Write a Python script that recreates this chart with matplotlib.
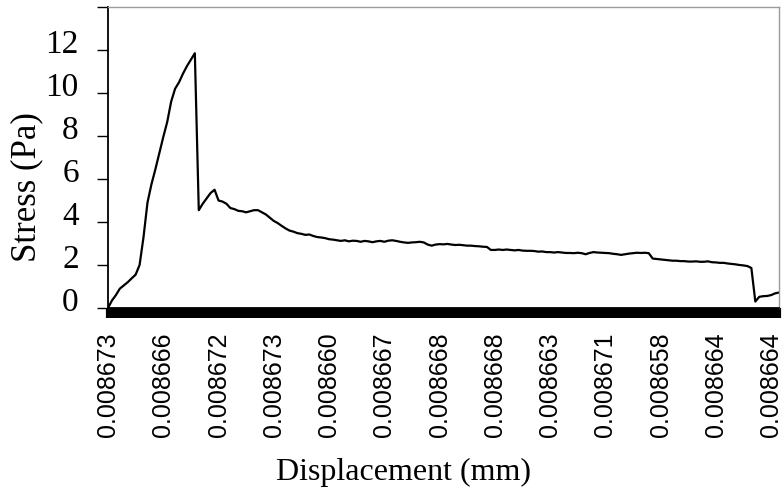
import numpy as np
import matplotlib
matplotlib.use("Agg")
import matplotlib.pyplot as plt
from matplotlib.transforms import ScaledTranslation

# Stress readings (Pa), one per displacement sample
stress = [
    0.0, 0.35, 0.6, 0.9, 1.05, 1.2, 1.38, 1.55, 2.0, 3.3,
    4.9, 5.75, 6.45, 7.2, 7.95, 8.65, 9.6, 10.2, 10.5, 10.9,
    11.25, 11.55, 11.85, 4.55, 4.85, 5.1, 5.35, 5.5, 5.0, 4.95,
    4.85, 4.65, 4.6, 4.52, 4.5, 4.45, 4.5, 4.55, 4.55, 4.45,
    4.35, 4.2, 4.05, 3.95, 3.82, 3.7, 3.6, 3.55, 3.48, 3.45,
    3.4, 3.42, 3.35, 3.3, 3.28, 3.25, 3.2, 3.18, 3.15, 3.12,
    3.15, 3.1, 3.13, 3.12, 3.08, 3.12, 3.1, 3.06, 3.1, 3.12,
    3.08, 3.13, 3.15, 3.12, 3.08, 3.05, 3.03, 3.05, 3.06, 3.08,
    3.05, 2.95, 2.9, 2.95, 2.97, 2.96, 2.98, 2.95, 2.93, 2.94,
    2.92, 2.9, 2.9, 2.88, 2.87, 2.85, 2.84, 2.7, 2.7, 2.72,
    2.7, 2.72, 2.7, 2.68, 2.7, 2.67, 2.66, 2.66, 2.65, 2.62,
    2.63, 2.6, 2.6, 2.58, 2.6, 2.58, 2.56, 2.56, 2.55, 2.57,
    2.55, 2.5, 2.56, 2.6, 2.58, 2.57, 2.56, 2.55, 2.52, 2.5,
    2.47, 2.5, 2.53, 2.55, 2.57, 2.56, 2.57, 2.55, 2.3, 2.28,
    2.26, 2.24, 2.22, 2.2, 2.2, 2.18, 2.18, 2.16, 2.16, 2.17,
    2.15, 2.15, 2.17, 2.13, 2.12, 2.1, 2.1, 2.07, 2.05, 2.03,
    2.0, 1.98, 1.95, 1.86, 0.3, 0.52, 0.55, 0.56, 0.6, 0.68,
    0.72,
]

# Displacement category labels (every 14th sample)
disp_labels = ["0.008673", "0.008666", "0.008672", "0.008673", "0.008660",
               "0.008667", "0.008668", "0.008668", "0.008663", "0.008671",
               "0.008658", "0.008664", "0.008664"]
label_step = 14

y_ticks = [0, 2, 4, 6, 8, 10, 12, 14]
y_labels = ["0", "2", "4", "6", "8", "10", "12", ""]

serif = "Liberation Serif"
sans = "Liberation Sans"

fig = plt.figure(figsize=(7.84, 4.88), dpi=100)
ax = fig.add_axes([108/784, 180/488, 671/784, 301/488])

x = np.arange(len(stress))
ax.plot(x, stress, color="k", lw=1.6)

ax.set_xlim(0, len(stress) - 1)
ax.set_ylim(0, 14)

# x axis: dense category ticks forming a black band
ax.set_xticks(np.arange(len(disp_labels)) * label_step)
ax.set_xticklabels(disp_labels, rotation=90, family=sans, fontsize=18)
ax.set_xticks(x, minor=True)
ax.tick_params(axis="x", which="both", direction="out", length=7.5,
               width=3, color="k", pad=10)

# y axis
ax.set_yticks(y_ticks)
ax.set_yticklabels(y_labels, family=serif, fontsize=24)
ax.tick_params(axis="y", direction="out", length=8, width=1, pad=13)
shift = ScaledTranslation(0, 0.09, fig.dpi_scale_trans)
for lab in ax.get_yticklabels():
    lab.set_transform(lab.get_transform() + shift)

for side in ["top", "right"]:
    ax.spines[side].set_color("#9a9a9a")
    ax.spines[side].set_linewidth(1)
ax.spines["left"].set_linewidth(1.3)
ax.spines["bottom"].set_linewidth(1.3)

fig.text(27/784, 1 - 187/488, "Stress (Pa)", rotation=90, ha="center",
         va="center", family=serif, fontsize=25)
fig.text(404/784, 1 - 480/488, "Displacement (mm)", ha="center",
         va="baseline", family=serif, fontsize=23)

plt.savefig("out.png", dpi=100)
